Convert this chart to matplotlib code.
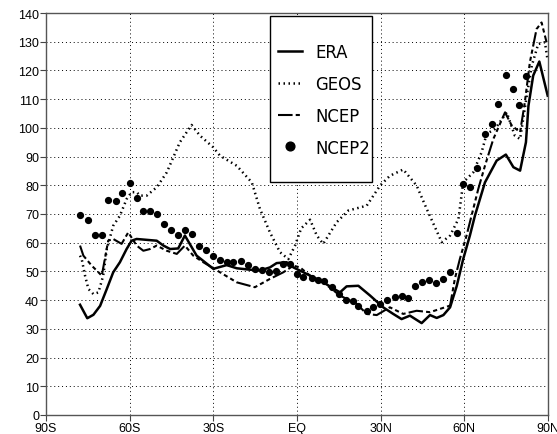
import numpy as np
import matplotlib
matplotlib.use("Agg")
import matplotlib.pyplot as plt
from matplotlib.patches import Rectangle

# values (latitude in degrees, negative = south)
era_lat = [-77.8, -75.2, -73.0, -70.6, -68.2, -65.9, -63.5, -61.1, -59.3, -57.5,
           -50.3, -47.9, -45.5, -42.6, -40.2, -36.0, -30.0, -28.2, -25.2, -21.6,
           -16.9, -13.3, -9.7, -7.3, -3.7, -1.3, 2.3, 9.4, 15.4, 17.8,
           22.0, 26.2, 30.9, 34.5, 37.5, 40.5, 44.7, 47.7, 50.1, 52.5,
           54.9, 57.3, 59.6, 62.0, 63.8, 67.4, 71.6, 74.9, 77.6, 80.0,
           82.1, 83.0, 84.7, 86.9, 89.9]
era_val = [38.4, 33.7, 34.9, 38.0, 43.9, 49.7, 53.2, 57.8, 60.7, 61.3,
           60.7, 59.0, 57.8, 58.0, 62.5, 55.5, 50.9, 51.4, 52.2, 51.1,
           50.6, 50.3, 51.4, 52.9, 53.2, 51.4, 49.7, 46.2, 42.7, 44.8,
           45.0, 41.6, 37.5, 35.2, 33.4, 34.6, 32.0, 34.8, 33.8, 34.8,
           37.5, 45.0, 54.3, 62.5, 69.4, 81.0, 88.6, 90.7, 86.3, 85.1,
           95.0, 107.7, 118.2, 123.1, 111.2]

geos_lat = [-77.8, -77.2, -76.0, -74.8, -73.0, -71.2, -69.5, -68.2, -65.9, -63.5,
            -61.1, -59.3, -57.5, -56.3, -53.9, -50.3, -46.7, -42.0, -37.8, -34.8,
            -30.0, -27.6, -21.6, -16.2, -13.3, -9.7, -6.1, -3.1, -0.7, 1.5,
            4.7, 7.1, 9.4, 14.2, 18.4, 25.0, 29.8, 33.3, 38.1, 42.9,
            46.5, 51.9, 54.9, 57.9, 59.6, 63.2, 66.2, 68.0, 71.0, 75.2,
            78.1, 80.0, 82.4, 84.2, 86.5, 88.9, 89.9]
geos_val = [55.5, 54.3, 48.5, 43.9, 42.1, 42.7, 48.5, 57.8, 65.9, 69.4,
            75.2, 77.6, 77.6, 76.4, 76.4, 79.3, 84.5, 95.0, 101.0, 97.3,
            93.2, 90.3, 86.8, 81.0, 71.8, 63.6, 56.7, 54.3, 59.0, 65.0,
            68.0, 62.5, 59.6, 67.1, 71.2, 72.9, 79.9, 83.3, 85.5, 79.9,
            71.8, 60.2, 62.5, 68.3, 81.0, 84.5, 91.5, 97.9, 99.6, 105.4,
            97.3, 96.1, 111.2, 121.7, 129.2, 129.8, 123.4]

ncep_lat = [-77.8, -76.6, -73.6, -71.2, -70.0, -67.7, -65.9, -62.9, -60.5, -57.5,
            -55.1, -52.7, -50.3, -46.7, -43.1, -40.2, -37.2, -33.6, -27.6, -21.6,
            -15.1, -9.7, -4.9, -1.3, 1.1, 4.7, 9.4, 15.4, 21.4, 25.0,
            28.6, 33.3, 38.1, 42.9, 47.7, 54.9, 56.6, 58.4, 60.8, 65.0,
            67.4, 70.4, 74.6, 77.0, 80.0, 81.7, 83.5, 85.9, 87.7, 89.5]
ncep_val = [59.0, 55.5, 52.0, 49.7, 48.5, 60.7, 61.3, 59.6, 63.6, 59.0,
            57.2, 57.8, 59.0, 57.2, 56.1, 59.0, 55.5, 53.2, 49.7, 46.2,
            44.5, 47.4, 49.7, 52.0, 51.4, 48.5, 46.2, 41.6, 38.7, 35.2,
            34.8, 37.5, 35.2, 36.3, 35.8, 38.1, 47.4, 54.3, 62.5, 78.7,
            86.8, 96.1, 105.4, 100.8, 98.5, 108.9, 122.8, 134.4, 136.7, 129.8]

ncep2_lat = [-77.8, -75.1, -72.4, -69.9, -67.7, -65.0, -62.6, -60.0, -57.5, -55.1,
             -52.7, -50.1, -47.6, -45.2, -42.6, -40.2, -37.7, -35.1, -32.6, -30.0,
             -27.6, -25.2, -22.8, -20.1, -17.5, -15.0, -12.6, -10.0, -7.5, -4.9,
             -2.5, -0.1, 2.3, 5.3, 7.6, 9.7, 12.4, 15.0, 17.6, 20.0,
             22.0, 25.0, 27.4, 29.8, 32.4, 35.1, 37.5, 39.7, 42.3, 44.9,
             47.4, 49.7, 52.2, 54.9, 57.5, 59.6, 62.0, 64.6, 67.4, 69.8,
             72.2, 74.8, 77.3, 79.7, 82.1]
ncep2_val = [69.8, 68.0, 62.6, 62.6, 75.0, 74.4, 77.2, 80.8, 75.5, 71.2,
             71.0, 70.0, 66.6, 64.4, 62.7, 64.4, 62.9, 59.0, 57.5, 55.3,
             54.0, 53.4, 53.4, 53.8, 52.4, 51.0, 50.4, 49.7, 50.2, 52.6,
             52.6, 49.1, 48.0, 47.6, 47.1, 46.8, 44.5, 42.0, 40.2, 39.6,
             38.1, 36.3, 37.5, 38.7, 40.2, 41.0, 41.3, 40.6, 44.8, 46.2,
             47.0, 46.0, 47.4, 49.9, 63.5, 80.5, 79.3, 86.0, 97.9, 101.4,
             108.4, 118.4, 113.4, 108.1, 118.2]

xticks = [-90, -60, -30, 0, 30, 60, 90]
xticklabels = ['90S', '60S', '30S', 'EQ', '30N', '60N', '90N']
yticks = list(range(0, 141, 10))

plt.rcParams['font.family'] = ['Liberation Sans', 'DejaVu Sans']

fig = plt.figure(figsize=(5.57, 4.35), dpi=100)
ax = fig.add_axes([0.0826, 0.0437, 0.9012, 0.9241])

ax.plot(era_lat, era_val, color='black', lw=1.8, ls='-', label='ERA')
ax.plot(geos_lat, geos_val, color='black', lw=1.8, ls=(0, (0.6, 1.4)), label='GEOS')
ax.plot(ncep_lat, ncep_val, color='black', lw=1.5,
        ls=(0, (7, 1.5, 2, 1.5, 2, 1.5, 2, 1.5)), label='NCEP')
ax.plot(ncep2_lat, ncep2_val, color='black', ls='none', marker='o', ms=4.2,
        label='NCEP2')

ax.set_xlim(-90, 90)
ax.set_ylim(0, 140)
ax.set_xticks(xticks)
ax.set_xticklabels(xticklabels)
ax.set_yticks(yticks)
ax.tick_params(labelsize=9, length=4, width=0.8, color='#444444', pad=1)
ax.grid(True, color='black', ls=(0, (1, 3)), lw=0.7)
for s in ax.spines.values():
    s.set_color('#555555')
    s.set_linewidth(1.0)

# legend box
ax.add_patch(Rectangle((0.446, 0.58), 0.203, 0.4125, transform=ax.transAxes,
                       facecolor='white', edgecolor='black', lw=1.0, zorder=4))
leg = ax.legend(loc='upper left', bbox_to_anchor=(0.444, 0.948), frameon=False,
                borderpad=0, handlelength=1.3, handletextpad=0.72,
                labelspacing=0.76, markerscale=1.5,
                prop={'family': 'DejaVu Sans', 'stretch': 'condensed', 'size': 13.2})
leg.set_zorder(5)

fig.savefig('out.png', dpi=100)
